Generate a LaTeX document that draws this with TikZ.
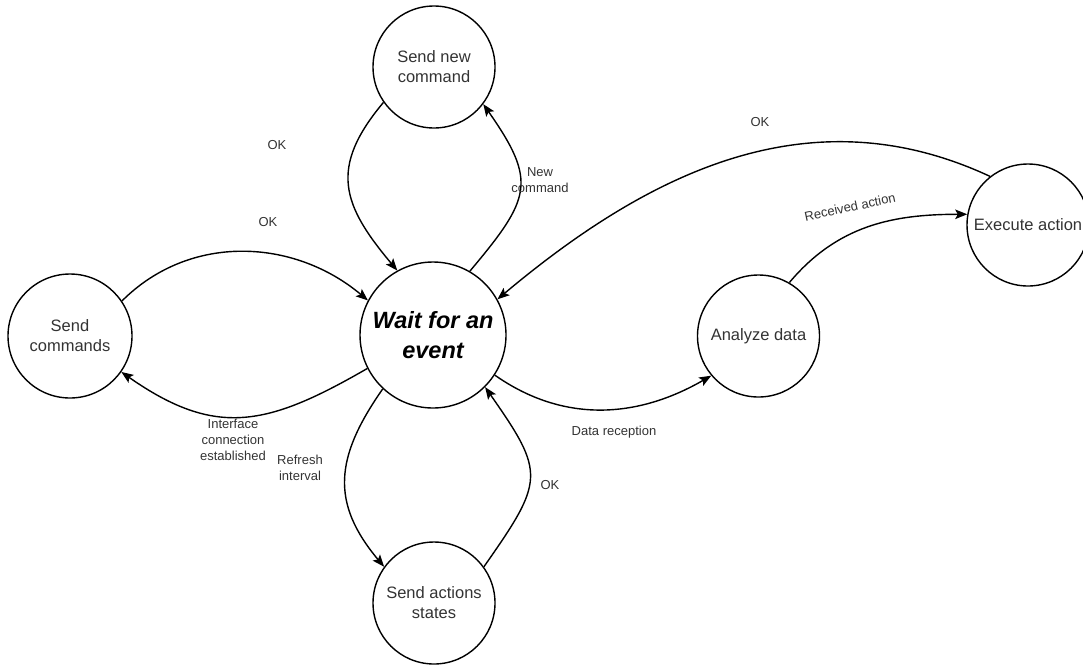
\documentclass[tikz,border=0pt]{standalone}
\usepackage{fontspec}
\setmainfont{Liberation Sans}
\usetikzlibrary{arrows.meta}
\definecolor{inkgray}{HTML}{333333}
\begin{document}
\begin{tikzpicture}[x=1pt,y=-1pt,
  state/.style={draw=black, line width=1.4pt, circle, inner sep=0pt,
    minimum size=122pt, align=center, text=inkgray,
    font=\fontsize{16.5}{20}\selectfont},
  hub/.style={state, minimum size=146pt, text=black,
    font=\fontsize{23.5}{30}\selectfont\bfseries\itshape},
  trans/.style={line width=1.4pt,
    -{Stealth[length=12pt,width=9.5pt,inset=2.5pt]}},
  lbl/.style={text=inkgray, align=center, inner sep=0pt,
    font=\fontsize{13}{16}\selectfont}]
\useasboundingbox (0,0) rectangle (1083,665);
\clip (0,0) rectangle (1083,665);

% states
\node[hub]   (wait) at (433,335)  {Wait for an\\event};
\node[state] (snc)  at (434,67)   {Send new\\command};
\node[state, minimum size=124pt] (sc) at (70,336) {Send\\commands};
\node[state] (sas)  at (434,603)  {Send actions\\states};
\node[state] (ad)   at (758.5,336) {Analyze data};
\node[state] (ea)   at (1028,225) {Execute action};

% transitions
\draw[trans] (snc.215) to[out=230,in=130,looseness=1.3] (wait.119);
\draw[trans] (wait.60) to[out=50,in=305,looseness=1.45] (snc.323);
\draw[trans] (sc.34) to[out=45,in=140] (wait.152);
\draw[trans] (wait.207) to[out=210,in=325,looseness=1.2] (sc.325);
\draw[trans] (wait.227) to[out=235,in=130,looseness=1.2] (sas.144);
\draw[trans] (sas.36) to[out=55,in=305,looseness=1.5] (wait.315);
\draw[trans] (wait.327) to[out=-35,in=210] (ad.220);
\draw[trans] (ad.60) to[out=50,in=180] (ea.170);
\draw[trans] (ea.128) to[out=155,in=40] (wait.29);

% transition labels
\node[lbl] (l1) at (277,145) {OK};
\node[lbl] (l2) at (540,180) {New\\command};
\node[lbl] (l3) at (268,222) {OK};
\node[lbl] (l4) at (233,440) {Interface\\connection\\established};
\node[lbl] (l5) at (300,468) {Refresh\\interval};
\node[lbl] (l6) at (550,485) {OK};
\node[lbl] (l7) at (614,432) {Data reception};
\node[lbl, rotate=12] (l8) at (850,207) {Received action};
\node[lbl] (l9) at (760,122) {OK};
\end{tikzpicture}
\end{document}
